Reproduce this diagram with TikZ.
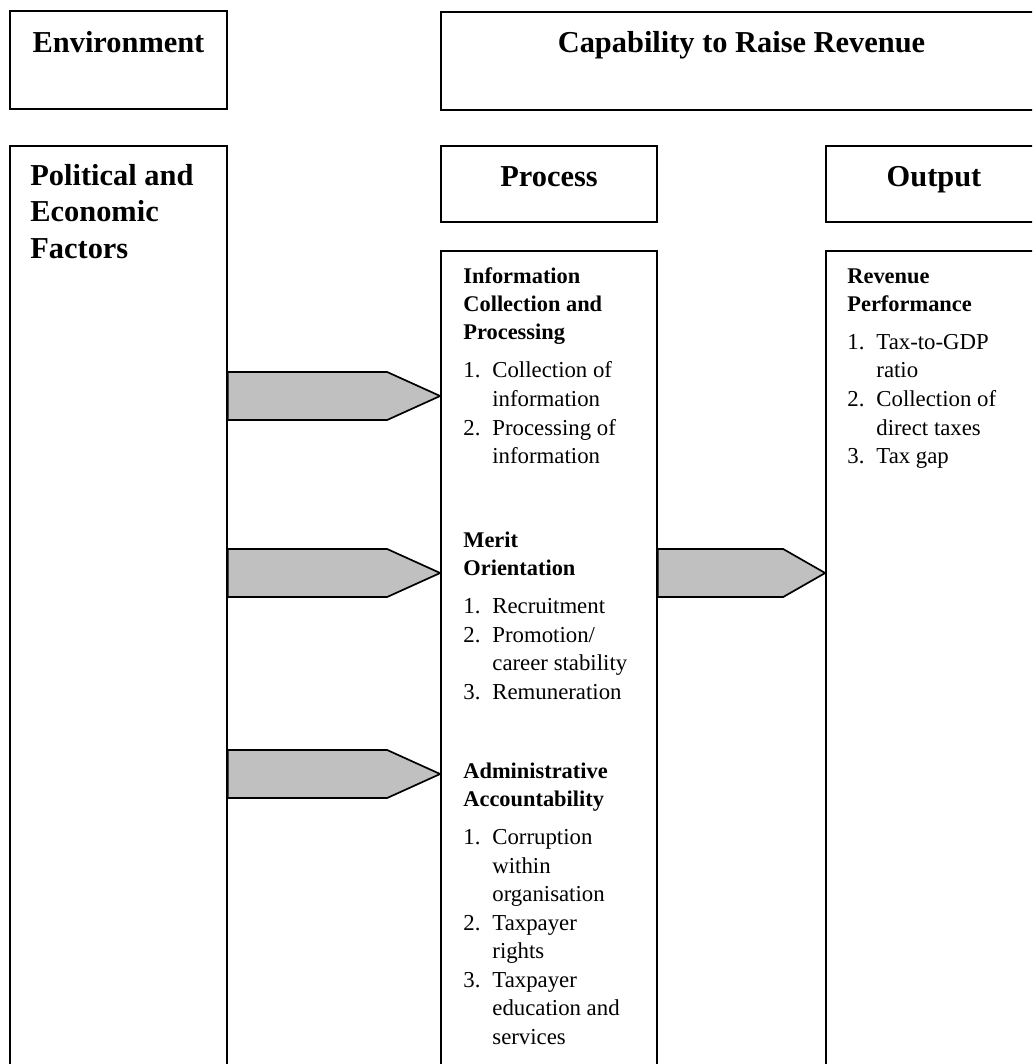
\documentclass[tikz,border=0pt]{standalone}
\usepackage{fontspec}
\setmainfont{Liberation Serif}
\usetikzlibrary{fit}
\definecolor{arrowgray}{RGB}{192,192,192}
\newcommand{\subhd}[1]{{\fontsize{11.2}{14.25}\bfseries\selectfont #1}}
\newcommand{\numitem}[1]{\makebox[14.5pt][l]{#1}}
\newcommand{\numcont}{\hspace*{14.5pt}}

\begin{document}
\begin{tikzpicture}[x=0.5pt,y=-0.5pt,line join=miter,
  box/.style={draw,line width=0.85pt,inner sep=0pt},
  head/.style={font=\fontsize{15.2}{18.3}\bfseries\selectfont,inner sep=0pt},
  body/.style={font=\fontsize{11.4}{14.25}\selectfont,inner sep=0pt,anchor=base west},
  flow/.style={draw,line width=0.85pt,fill=arrowgray}]
\useasboundingbox (0,0) rectangle (1032,1064);
\clip (0,0) rectangle (1032,1064);

% boxes (right and bottom ones run off the page)
\node[box,fit={(10,11) (227,109)}] (env) {};
\node[box,fit={(441,12) (1042,110)}] (cap) {};
\node[box,fit={(10,146) (227,1100)}] (pol) {};
\node[box,fit={(441,146) (657,222)}] (proc) {};
\node[box,fit={(826,146) (1042,222)}] (out) {};
\node[box,fit={(441,251) (657,1100)}] (info) {};
\node[box,fit={(826,251) (1042,1100)}] (rev) {};

% titles
\node[head,anchor=base] (envt) at (118.5,53) {Environment};
\node[head,anchor=base] (capt) at (741.5,53) {Capability to Raise Revenue};
\node[head,anchor=base] (proct) at (549,187) {Process};
\node[head,anchor=base] (outt) at (934,187) {Output};
\node[head,anchor=base west] (polt) at (30,185) {\begin{tabular}[t]{@{}l@{}}
  Political and\\ Economic\\ Factors\end{tabular}};

% process column
\node[body] (infot) at (463,283) {\begin{tabular}[t]{@{}l@{}}
  \subhd{Information}\\ \subhd{Collection and}\\ \subhd{Processing}\\[4.75pt]
  \numitem{1.}Collection of\\ \numcont information\\
  \numitem{2.}Processing of\\ \numcont information\end{tabular}};
\node[body] (meritt) at (463,547) {\begin{tabular}[t]{@{}l@{}}
  \subhd{Merit}\\ \subhd{Orientation}\\[4.75pt]
  \numitem{1.}Recruitment\\
  \numitem{2.}Promotion/\\ \numcont career stability\\
  \numitem{3.}Remuneration\end{tabular}};
\node[body] (admint) at (463,778) {\begin{tabular}[t]{@{}l@{}}
  \subhd{Administrative}\\ \subhd{Accountability}\\[4.75pt]
  \numitem{1.}Corruption\\ \numcont within\\ \numcont organisation\\
  \numitem{2.}Taxpayer\\ \numcont rights\\
  \numitem{3.}Taxpayer\\ \numcont education and\\ \numcont services\end{tabular}};

% output column
\node[body] (revt) at (847,283) {\begin{tabular}[t]{@{}l@{}}
  \subhd{Revenue}\\ \subhd{Performance}\\[4.75pt]
  \numitem{1.}Tax-to-GDP\\ \numcont ratio\\
  \numitem{2.}Collection of\\ \numcont direct taxes\\
  \numitem{3.}Tax gap\end{tabular}};

% block arrows
\foreach \y [count=\i] in {396,573,774} {
  \coordinate (s\i) at (pol.east |- 0,\y);
  \coordinate (t\i) at (info.west |- 0,\y);
  \draw[flow] ([shift={(0,-24)}]s\i) -- ([shift={(-53,-24)}]t\i) -- (t\i)
    -- ([shift={(-53,24)}]t\i) -- ([shift={(0,24)}]s\i) -- cycle;
}
\coordinate (s4) at (info.east |- 0,573);
\coordinate (t4) at (rev.west |- 0,573);
\draw[flow] ([shift={(0,-24)}]s4) -- ([shift={(-42,-24)}]t4) -- (t4)
  -- ([shift={(-42,24)}]t4) -- ([shift={(0,24)}]s4) -- cycle;
\end{tikzpicture}
\end{document}
